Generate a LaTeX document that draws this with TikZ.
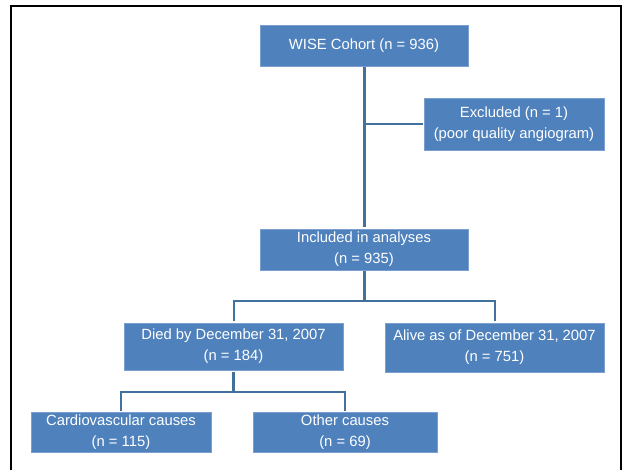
\documentclass[tikz,border=0pt]{standalone}
\usepackage{fontspec}
\setmainfont{Liberation Sans}
\usetikzlibrary{positioning}
\definecolor{boxblue}{HTML}{4F81BD}
\definecolor{boxline}{HTML}{7A9FD0}
\definecolor{linkblue}{HTML}{41719C}

\begin{document}
\begin{tikzpicture}[x=1pt,y=-1pt]
\tikzstyle{box}=[rectangle, fill=boxblue, draw=boxline, line width=0.8pt,
	text=white, align=center, inner sep=0pt, outer sep=1.5pt,
	font=\fontsize{14.8}{21}\selectfont,
]
\tikzstyle{link}=[draw=linkblue, line width=2pt]
\useasboundingbox (0,0) rectangle (624,470);
\draw[line width=2pt] (11,480) -- (11,6) -- (621,6) -- (621,480);

\node[box, minimum width=208pt, minimum height=41pt] (wise) at (364,45.5) {WISE Cohort (n = 936)};
\node[box, minimum width=180pt, minimum height=52pt] (excl) at (514,124) {Excluded (n = 1)\\(poor quality angiogram)};
\node[box, minimum width=208pt, minimum height=41pt] (incl) at (364,249.5) {Included in analyses\\(n = 935)};
\node[box, minimum width=219pt, minimum height=47pt] (died) at (233.5,346.5) {Died by December 31, 2007\\(n = 184)};
\node[box, minimum width=219pt, minimum height=49pt] (alive) at (494.5,347.5) {Alive as of December 31, 2007\\(n = 751)};
\node[box, minimum width=180pt, minimum height=40pt] (cvd) at (121,432) {Cardiovascular causes\\(n = 115)};
\node[box, minimum width=184pt, minimum height=40pt] (other) at (345,432) {Other causes\\(n = 69)};

\coordinate (split1) at (364,301);
\coordinate (split2) at (233.5,392);

\path[link, line width=3pt] (wise.south) -- (incl.north);
\path[link] (wise.south |- excl.west) -- (excl.west);
\path[link, line width=3pt] (incl.south) -- (split1);
\path[link] (died.north) -- (died.north |- split1) -- (alive.north |- split1) -- (alive.north);
\path[link, line width=3pt] (died.south) -- (split2);
\path[link] (cvd.north) -- (cvd.north |- split2) -- (other.north |- split2) -- (other.north);

\end{tikzpicture}
\end{document}
